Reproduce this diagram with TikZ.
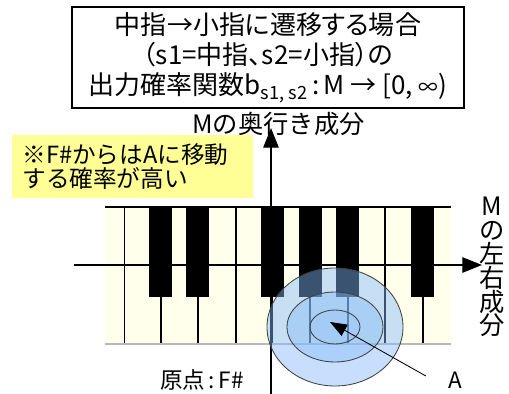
\documentclass[tikz,border=0pt]{standalone}
\usepackage{fontspec}
\setmainfont{Noto Sans CJK JP}
\newfontfamily\propfont[RawFeature=+palt]{Noto Sans CJK JP}
\usetikzlibrary{arrows.meta}
\usetikzlibrary{positioning}

\definecolor{keyivory}{RGB}{255,255,236}
\definecolor{notepale}{RGB}{255,255,150}
\definecolor{ringblue}{RGB}{130,185,250}

\begin{document}
\begin{tikzpicture}[x=0.025cm,y=-0.025cm,
    axis/.style={line width=0.8pt,-{Triangle[length=14pt,width=11pt]}},
    keyline/.style={line width=1.4pt},
    ring/.style={draw=black!75,line width=0.6pt,fill=ringblue,fill opacity=0.45},
    lbl/.style={font=\fontsize{18}{17}\selectfont,inner sep=0pt}]
    \useasboundingbox (0,0) rectangle (509,394);

    % keyboard
    \fill[keyivory] (105,207) rectangle (451,344);
    \foreach \x in {124.5,161,198,236,272,310,348,385,423}
      \draw[keyline] (\x,207) -- (\x,344);
    \foreach \x in {160,197,272.5,310,347.5,422.5}
      \fill (\x-11.5,207) rectangle (\x+11.5,297);
    \draw[line width=2pt] (105,207) -- (451,207);
    \draw[gray!55,line width=1.4pt] (105,344) -- (451,344);

    % axes
    \coordinate (xs) at (74,265);
    \coordinate (xe) at (482,265);
    \coordinate (ys) at (271,394);
    \coordinate (ye) at (271,128);
    \draw[axis] (xs) -- (xe);
    \draw[axis] (ys) -- (ye);

    % probability contours around A
    \coordinate (peak) at (335,327);
    \coordinate (aim) at (330,322);
    \draw[ring] (peak) ellipse [x radius=68, y radius=59];
    \draw[ring,fill opacity=0.4] (peak) ellipse [x radius=48, y radius=35];
    \draw[ring,fill opacity=0.15] (peak) ellipse [x radius=25, y radius=17];

    % labels
    \node[draw,line width=1pt,fill=white,minimum width=9.8cm,minimum height=2.525cm,
          inner sep=0pt,align=center,font=\propfont\fontsize{18.5}{21.5}\selectfont] (title) at (268,57.5)
      {中指→小指に遷移する場合\\（s1=中指、s2=小指）の\\
       出力確率関数b\textsubscript{s1, s2}\,:\,M → [0, {\fontsize{14}{14}\selectfont ∞})};
    \node[fill=notepale,minimum width=6.025cm,minimum height=1.575cm,text width=5.5cm,
          inner xsep=0.26cm,align=left,font=\fontsize{16.8}{16.5}\selectfont] (note) at (132.5,166.5)
      {※F\#からはAに移動\\する確率が高い};
    \node[lbl] (depth) at (278.5,124) {Mの奥行き成分};
    \node[lbl,align=center] (width) at (492,267) {M\\の\\左\\右\\成\\分};
    \node[lbl,font=\propfont\fontsize{16}{16}\selectfont] (origin) at (202,380) {原点\,:\,F\#};
    \node[lbl,font=\fontsize{16}{16}\selectfont] (A) at (455,380) {A};

    \draw[line width=0.6pt,-{Triangle[length=12pt,width=9pt]}]
      ([shift={(-22,-4)}]A.west) -- (aim);
  \end{tikzpicture}
\end{document}
